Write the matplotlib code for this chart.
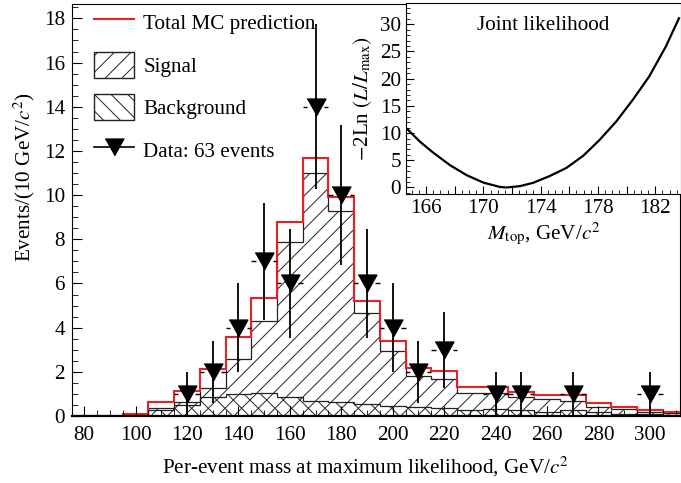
import numpy as np
import matplotlib
matplotlib.use('Agg')
import matplotlib.pyplot as plt
from matplotlib.lines import Line2D
from matplotlib.patches import Patch
from matplotlib.ticker import MultipleLocator, FuncFormatter

plt.rcParams['font.family'] = ['Liberation Serif', 'DejaVu Serif']
plt.rcParams['mathtext.fontset'] = 'stix'
plt.rcParams['hatch.linewidth'] = 0.7

# per-event mass histogram, 10 GeV/c^2 bins from 75 to 315
bin_edges = np.arange(75, 325, 10)
signal = [0, 0, 0.03, 0.35, 0.63, 1.25, 2.58, 4.31, 7.89, 11.0, 9.28, 4.65,
          2.95, 1.8, 1.68, 1.05, 1.02, 0.85, 0.75, 0.7, 0.42, 0.32, 0.18, 0.15]
background = [0, 0, 0.06, 0.28, 0.5, 0.88, 1.0, 1.04, 0.87, 0.68, 0.62, 0.54,
              0.45, 0.39, 0.35, 0.28, 0.3, 0.25, 0.2, 0.25, 0.18, 0.1, 0.09, 0.05]
total_mc = np.array(signal) + np.array(background)

# selected events
data_mass = [120, 130, 140, 150, 160, 170, 180, 190, 200, 210, 220, 240, 250, 270, 300]
data_events = [1, 2, 4, 7, 6, 14, 10, 6, 4, 2, 3, 1, 1, 1, 1]
data_err = [1.0, 1.41, 2.0, 2.65, 2.45, 3.74, 3.16, 2.45, 2.0, 1.41, 1.73, 1.0, 1.0, 1.0, 1.0]

# joint likelihood scan
mtop = [164.7, 165.58, 166.5, 167.67, 168.83, 170.0, 171.15, 171.6, 172.54, 173.47,
        174.63, 175.8, 176.96, 178.1, 179.27, 180.43, 181.58, 182.74, 183.66]
nll = [10.7, 8.4, 6.4, 4.1, 2.27, 0.9, 0.1, 0.0, 0.24, 0.85,
       2.1, 3.6, 5.8, 8.7, 12.1, 16.1, 20.4, 25.9, 31.1]

red = '#e8202a'
fs = 15.2
tri = [(-1, 0.9), (1, 0.9), (0, -0.9)]

fig = plt.figure(figsize=(6.81, 4.83), dpi=100)
ax = fig.add_axes([0.1057, 0.1387, 0.8928, 0.853])

ax.stairs(signal, bin_edges, fill=True, facecolor='none', edgecolor='#222222',
          hatch='//', linewidth=0.9)
ax.stairs(background, bin_edges, fill=True, facecolor='none', edgecolor='#222222',
          hatch='\\\\', linewidth=0.9)
ax.stairs(total_mc, bin_edges, color=red, linewidth=1.5)

# vertical error bars, and the bin-width bars with a gap around the marker
ax.errorbar(data_mass, data_events, yerr=data_err, fmt='none', ecolor='black',
            elinewidth=1.3, capsize=0)
dm = np.array(data_mass)
ax.hlines(data_events, dm - 5, dm - 3.3, color='black', lw=1.0)
ax.hlines(data_events, dm + 3.3, dm + 5, color='black', lw=1.0)
ax.plot(data_mass, data_events, ls='none', marker=tri, ms=13.5, color='black')

ax.set_xlim(75.3, 311.7)
ax.set_ylim(0, 18.65)
ax.xaxis.set_major_locator(MultipleLocator(20))
ax.xaxis.set_minor_locator(MultipleLocator(5))
ax.yaxis.set_major_locator(MultipleLocator(2))
ax.yaxis.set_minor_locator(MultipleLocator(0.5))
ax.tick_params(which='both', direction='in', labelsize=fs)
ax.tick_params(which='major', length=7)
ax.tick_params(which='minor', length=4)
ax.tick_params(axis='x', pad=7)
ax.tick_params(axis='y', pad=5)
ax.spines['bottom'].set_linewidth(1.6)

ax.set_xlabel('Per-event mass at maximum likelihood, GeV/$c^2$', fontsize=fs)
ax.xaxis.set_label_coords(0.482, -0.094)
ax.set_ylabel('Events/(10 GeV/$c^2$)', fontsize=fs)
ax.yaxis.set_label_coords(-0.057, 0.58)

handles = [
    Line2D([], [], color=red, lw=1.5),
    Patch(facecolor='white', edgecolor='#222222', hatch='//'),
    Patch(facecolor='white', edgecolor='#222222', hatch='\\\\'),
    Line2D([], [], color='black', lw=1.2, marker=tri, ms=13.5),
]
labels = ['Total MC prediction', 'Signal', 'Background', 'Data: 63 events']
ax.legend(handles, labels, loc='upper left', bbox_to_anchor=(0.022, 1.008),
          frameon=False, fontsize=fs, handlelength=1.9, handleheight=1.5,
          handletextpad=0.45, labelspacing=0.8, borderaxespad=0)

# inset: likelihood vs top mass
ins = fig.add_axes([0.5962, 0.5983, 0.4038, 0.3955])
ins.plot(mtop, nll, color='black', lw=1.6)
ins.set_xlim(164.6, 183.8)
ins.set_ylim(-1.2, 33.9)
ins.xaxis.set_major_locator(MultipleLocator(2))
ins.xaxis.set_minor_locator(MultipleLocator(0.5))
ins.xaxis.set_major_formatter(FuncFormatter(
    lambda v, p: f'{v:.0f}' if round(v - 166) % 4 == 0 else ''))
ins.yaxis.set_major_locator(MultipleLocator(5))
ins.yaxis.set_minor_locator(MultipleLocator(1))
ins.tick_params(which='both', direction='in', labelsize=fs)
ins.tick_params(which='major', length=6)
ins.tick_params(which='minor', length=3)
ins.set_xlabel(r'$M_{\rm top}$, GeV/$c^2$', fontsize=fs, labelpad=2)
ins.set_ylabel(r'$-$2Ln $(L/L_{\rm max})$', fontsize=fs)
ins.text(0.5, 0.88, 'Joint likelihood', transform=ins.transAxes, fontsize=fs,
         ha='center', va='center')

fig.savefig('out.png', dpi=100)
